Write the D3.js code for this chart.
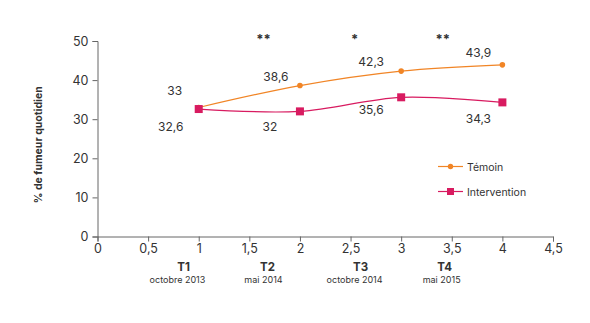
<!DOCTYPE html>
<html>
<head>
<meta charset="utf-8">
<script src="https://cdn.jsdelivr.net/npm/d3@7"></script>
<style>
  body { margin: 0; background: #fff; }
  text { font-family: Inter, "DejaVu Sans", sans-serif; fill: #333; }
</style>
</head>
<body>
<div id="chart"></div>
<script>
// data
const times = [1, 2, 3, 4];
const temoin = [33, 38.6, 42.3, 43.9];
const intervention = [32.6, 32, 35.6, 34.3];
const periodLabels = ["T1", "T2", "T3", "T4"];
const periodDates = ["octobre 2013", "mai 2014", "octobre 2014", "mai 2015"];
const periodPos = [0.85, 1.68, 2.6, 3.43];
const datePos = [0.79, 1.64, 2.54, 3.4];
const signif = ["**", "*", "**"];
const signifPos = [1.64, 2.54, 3.41];
const xTicks = [0, 0.5, 1, 1.5, 2, 2.5, 3, 3.5, 4, 4.5];
const yTicks = [0, 10, 20, 30, 40, 50];

const width = 590, height = 323;
const svg = d3.select('#chart').append('svg')
    .attr('width', width)
    .attr('height', height);

const x = d3.scaleLinear().domain([0, 4.5]).range([97.5, 553]);
const y = d3.scaleLinear().domain([0, 50]).range([236.5, 41]);
const fmt = v => String(v).replace('.', ',');

const orange = '#f18526', pink = '#d81b60';

// axes
const xAxis = svg.append('g')
    .attr('transform', `translate(0,${y(0)})`)
    .call(d3.axisBottom(x).tickValues(xTicks).tickSize(5).tickPadding(3).tickFormat(fmt));
const yAxis = svg.append('g')
    .attr('transform', `translate(${x(0)},0)`)
    .call(d3.axisLeft(y).tickValues(yTicks).tickSize(5).tickPadding(4));
[xAxis, yAxis].forEach(a => {
    a.select('.domain').attr('stroke', '#666');
    a.selectAll('.tick line').attr('stroke', '#666');
    a.selectAll('.tick text').attr('font-size', 12.5).attr('fill', '#333')
        .style('font-family', 'Inter, sans-serif');
});

// y title
svg.append('text')
    .attr('transform', `translate(42,${(y(0) + y(50)) / 2 + 6}) rotate(-90)`)
    .attr('text-anchor', 'middle')
    .attr('font-size', 10.5)
    .attr('font-weight', 'bold')
    .text('% de fumeur quotidien');

// lines
const line = d3.line().curve(d3.curveCatmullRom.alpha(0.5));
const series = [
    { values: temoin, color: orange, shape: 'circle' },
    { values: intervention, color: pink, shape: 'square' }
];
series.forEach(s => {
    const pts = times.map((t, i) => [x(t), y(s.values[i])]);
    svg.append('path').attr('d', line(pts))
        .attr('fill', 'none').attr('stroke', s.color).attr('stroke-width', 1.2);
});
series.forEach(s => {
    times.forEach((t, i) => {
        if (s.shape === 'circle') {
            svg.append('circle').attr('cx', x(t)).attr('cy', y(s.values[i]))
                .attr('r', 2.8).attr('fill', s.color);
        } else {
            svg.append('rect').attr('x', x(t) - 4).attr('y', y(s.values[i]) - 4)
                .attr('width', 8).attr('height', 8).attr('fill', s.color);
        }
    });
});

// value labels
const temoinOff = [[-24, -12], [-24, -5], [-30, -5], [-24, -8]];
const interOff = [[-28, 22], [-30, 20], [-30, 17], [-24, 21]];
times.forEach((t, i) => {
    svg.append('text').attr('x', x(t) + temoinOff[i][0]).attr('y', y(temoin[i]) + temoinOff[i][1])
        .attr('text-anchor', 'middle').attr('font-size', 12).text(fmt(temoin[i]));
    svg.append('text').attr('x', x(t) + interOff[i][0]).attr('y', y(intervention[i]) + interOff[i][1])
        .attr('text-anchor', 'middle').attr('font-size', 12).text(fmt(intervention[i]));
});

// significance stars
signif.forEach((s, i) => {
    svg.append('text').attr('x', x(signifPos[i])).attr('y', 44)
        .attr('text-anchor', 'middle').attr('font-size', 13).attr('font-weight', 'bold')
        .attr('fill', '#222').text(s);
});

// period labels
periodLabels.forEach((p, i) => {
    svg.append('text').attr('x', x(periodPos[i])).attr('y', 271)
        .attr('text-anchor', 'middle').attr('font-size', 11.5).attr('font-weight', 'bold')
        .attr('fill', '#111').text(p);
    svg.append('text').attr('x', x(datePos[i])).attr('y', 283)
        .attr('text-anchor', 'middle').attr('font-size', 9).attr('fill', '#444')
        .text(periodDates[i]);
});

// legend
const legend = [
    { name: 'Témoin', color: orange, shape: 'circle' },
    { name: 'Intervention', color: pink, shape: 'square' }
];
legend.forEach((l, i) => {
    const ly = 166.5 + i * 25;
    svg.append('line').attr('x1', 438).attr('x2', 463).attr('y1', ly).attr('y2', ly)
        .attr('stroke', l.color).attr('stroke-width', 1.2);
    if (l.shape === 'circle') {
        svg.append('circle').attr('cx', 450.5).attr('cy', ly).attr('r', 2.7).attr('fill', l.color);
    } else {
        svg.append('rect').attr('x', 447).attr('y', ly - 3.5).attr('width', 7).attr('height', 7)
            .attr('fill', l.color);
    }
    svg.append('text').attr('x', 467).attr('y', ly + 4).attr('font-size', 10.5).text(l.name);
});
</script>
</body>
</html>
